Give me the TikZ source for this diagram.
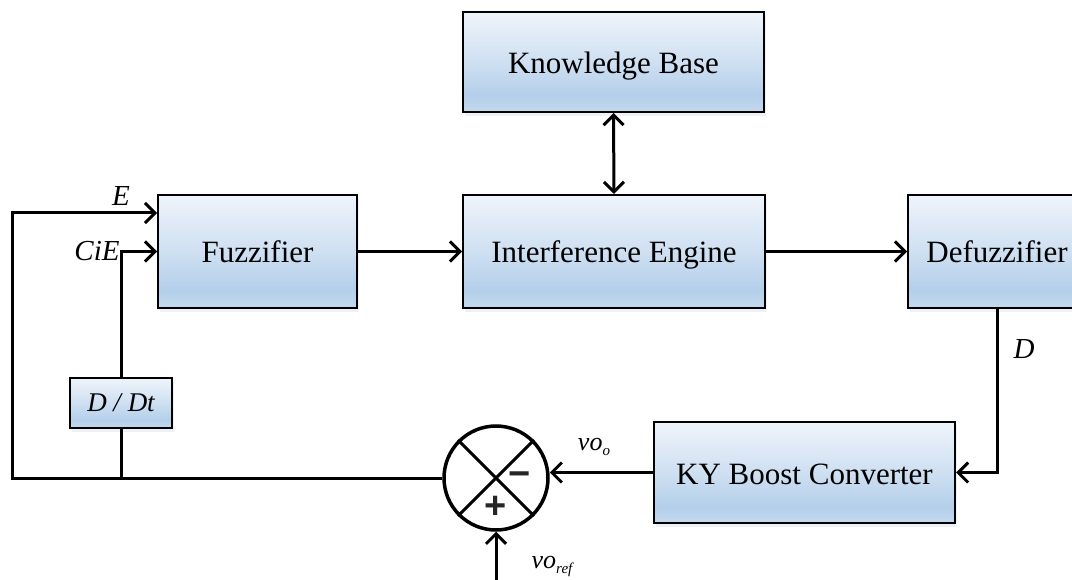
\documentclass[tikz,border=0pt]{standalone}
\usepackage{fontspec}
\setmainfont{Liberation Serif}
\newfontfamily\signfont{Liberation Sans}
\usetikzlibrary{arrows.meta,shadows,calc}

\definecolor{boxtop}{HTML}{EFF4FB}
\definecolor{boxmid}{HTML}{B4CFEA}
\definecolor{boxbot}{HTML}{C4D9EE}
\definecolor{shadowblue}{HTML}{9FB3C8}
% light-to-blue vertical fill of the blocks (25bp..75bp spans the box)
\pgfdeclareverticalshading{blockfill}{100bp}{color(0bp)=(boxbot); color(25bp)=(boxbot); color(33bp)=(boxmid); color(50bp)=(boxmid!55!boxtop); color(75bp)=(boxtop); color(100bp)=(boxtop)}

\tikzset{
  block/.style={draw=black, line width=2pt, shading=blockfill, inner sep=0pt,
    text height=23pt, text depth=0pt,
    drop shadow={shadow xshift=1.5pt, shadow yshift=-4pt, opacity=0.18, fill=shadowblue},
    font=\fontsize{31}{36}\selectfont},
  conn/.style={line width=3pt},
  arr/.style={conn, -{Straight Barb[length=10pt,width=20pt]}},
  biarr/.style={conn, {Straight Barb[length=10pt,width=20pt]}-{Straight Barb[length=10pt,width=20pt]}},
  sig/.style={font=\fontsize{29}{33}\selectfont\itshape, inner sep=0pt},
  signmark/.style={font=\fontsize{38}{42}\selectfont\signfont\bfseries, inner sep=0pt, text=black!85}
}

\begin{document}
\begin{tikzpicture}[x=1pt,y=-1pt]
  \useasboundingbox (0,0) rectangle (1072,580);
  \clip (0,0) rectangle (1072,580);

  % blocks
  \node[block, minimum width=301pt, minimum height=100pt] (kb) at (613.5,62) {Knowledge Base};
  \node[block, minimum width=199pt, minimum height=113pt] (fuzz) at (257.5,251.5) {Fuzzifier};
  \node[block, minimum width=302pt, minimum height=113pt] (ie) at (614,251.5) {Interference Engine};
  \node[block, minimum width=178pt, minimum height=113pt] (defuzz) at (997,251.5) {Defuzzifier};
  \node[block, minimum width=301pt, minimum height=101pt] (ky) at (804.5,472.5) {KY Boost Converter};
  \node[block, minimum width=102pt, minimum height=50pt, text height=19pt, text depth=2pt,
        font=\fontsize{27}{30}\selectfont\itshape] (ddt) at (121,403) {D / Dt};

  % summing junction
  \node[circle, draw=black, line width=3.5pt, minimum size=104pt, inner sep=0pt] (sum) at (496,478) {};
  \draw[conn] (sum.north west) -- (sum.south east);
  \draw[conn] (sum.north east) -- (sum.south west);
  \node[signmark] (minus) at (520,479) {−};
  \node[signmark] (plus) at (496,507) {+};

  % forward path
  \draw[arr] (fuzz.east) -- (ie.west);
  \draw[arr] (ie.east) -- (defuzz.west);
  \draw[biarr] (kb.south) -- (ie.north);

  % plant path
  \draw[arr] (defuzz.south) |- (ky.east);
  \draw[arr] (ky.west) -- (ky.west -| sum.east);

  % reference input
  \coordinate (ref) at (496,580);
  \draw[arr] (ref) -- (sum.south);

  % error feedback to the fuzzifier
  \coordinate (left) at (12,478);
  \coordinate (ein) at ($(fuzz.west)+(0,-38.5)$);
  \coordinate (tap) at (ddt.south |- sum.west);
  \draw[arr] (sum.west) -- (left) |- (ein);
  \draw[conn] (tap) -- (ddt.south);
  \draw[arr] (ddt.north) |- (fuzz.west);

  % signal labels
  \node[sig] (lE) at (121,196) {E};
  \node[sig] (lCiE) at (97,251) {CiE};
  \node[sig] (lD) at (1024,349) {D};
  \node[sig, font=\fontsize{26}{30}\selectfont\itshape] (lvo) at (594,447) {vo\raisebox{-5pt}{\fontsize{15}{16}\selectfont o}};
  \node[sig, font=\fontsize{26}{30}\selectfont\itshape] (lvref) at (552,566) {vo\raisebox{-5pt}{\fontsize{15}{16}\selectfont ref}};
\end{tikzpicture}
\end{document}
